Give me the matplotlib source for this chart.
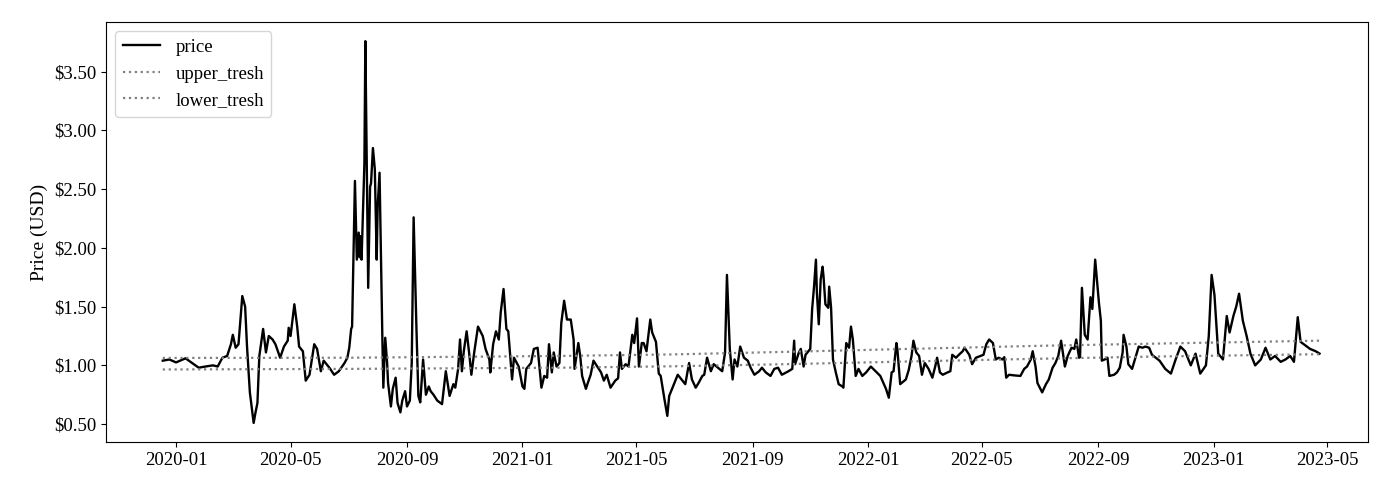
import numpy as np
import pandas as pd
import matplotlib
matplotlib.use("Agg")
import matplotlib.pyplot as plt
import matplotlib.dates as mdates
from matplotlib.ticker import StrMethodFormatter

plt.rcParams['font.family'] = ['Liberation Serif', 'DejaVu Serif']

# all day numbers below are counted from this date
base = pd.Timestamp("2020-01-05")

price_days = [
    -18, -11, -4, 6, 13, 20, 27, 35, 40, 45, 50, 54, 56, 59, 62, 64, 66, 69, 71, 74,
    77, 78, 80, 82, 84, 88, 91, 94, 98, 101, 106, 110, 114, 115, 117, 121, 124, 126, 130, 133,
    137, 142, 145, 149, 152, 158, 163, 168, 174, 177, 179, 181, 182, 185, 187, 189, 190, 191, 192, 195,
    196, 199, 201, 202, 204, 206, 208, 209, 211, 212, 214, 215, 217, 219, 220, 223, 225, 228, 230, 233,
    235, 238, 240, 243, 245, 247, 250, 252, 254, 257, 260, 263, 265, 268, 272, 277, 281, 285, 289, 291,
    294, 296, 298, 300, 303, 306, 308, 311, 315, 320, 323, 327, 328, 331, 334, 337, 339, 342, 345, 347,
    351, 353, 358, 362, 364, 366, 371, 374, 378, 382, 385, 388, 390, 393, 395, 398, 401, 403, 406, 409,
    413, 416, 417, 421, 423, 425, 429, 431, 434, 437, 441, 445, 448, 451, 455, 460, 463, 465, 467, 471,
    474, 478, 480, 483, 485, 488, 490, 493, 497, 499, 503, 506, 508, 512, 515, 517, 521, 526, 531, 534,
    538, 541, 545, 548, 552, 554, 557, 561, 564, 570, 573, 576, 578, 581, 584, 586, 589, 592, 596, 600,
    603, 607, 612, 615, 619, 624, 628, 632, 636, 643, 647, 649, 650, 654, 656, 659, 661, 666, 668, 670,
    672, 673, 675, 677, 679, 680, 682, 685, 686, 688, 690, 693, 696, 700, 701, 704, 707, 709, 711, 714,
    717, 721, 725, 730, 735, 740, 746, 749, 752, 754, 757, 758, 761, 767, 770, 773, 775, 778, 781, 784,
    787, 791, 795, 798, 800, 803, 806, 811, 814, 816, 820, 823, 827, 829, 834, 837, 841, 846, 849, 852,
    855, 859, 862, 865, 869, 871, 873, 876, 881, 888, 892, 895, 899, 901, 904, 906, 911, 915, 918, 922,
    925, 928, 931, 935, 938, 942, 945, 947, 950, 951, 953, 956, 959, 962, 964, 967, 971, 973, 974, 977,
    980, 982, 987, 990, 993, 996, 997, 1000, 1002, 1006, 1010, 1013, 1017, 1020, 1024, 1027, 1031, 1035, 1041, 1047,
    1052, 1057, 1062, 1068, 1073, 1078, 1084, 1087, 1090, 1093, 1097, 1102, 1106, 1109, 1113, 1116, 1119, 1123, 1127, 1131,
    1136, 1142, 1147, 1152, 1157, 1163, 1168, 1173, 1177, 1181, 1184, 1189, 1194, 1200, 1204,
]
price = [
    1.04, 1.05, 1.025, 1.06, 1.02, 0.98, 0.99, 1.00, 0.99, 1.065, 1.08, 1.18, 1.26, 1.15, 1.18, 1.38, 1.59, 1.50, 1.16, 0.77,
    0.57, 0.51, 0.60, 0.68, 1.08, 1.31, 1.11, 1.25, 1.22, 1.18, 1.065, 1.16, 1.21, 1.32, 1.25, 1.52, 1.33, 1.16, 1.12, 0.87,
    0.92, 1.18, 1.14, 0.95, 1.04, 0.98, 0.92, 0.95, 1.02, 1.065, 1.15, 1.31, 1.33, 2.57, 1.90, 2.13, 1.92, 2.10, 1.90, 2.72,
    3.76, 1.66, 2.52, 2.55, 2.85, 2.67, 1.90, 2.35, 2.64, 2.16, 1.22, 0.81, 1.235, 1.02, 0.85, 0.65, 0.80, 0.895, 0.68, 0.60,
    0.70, 0.78, 0.65, 0.70, 1.02, 2.26, 1.31, 0.74, 0.685, 1.05, 0.75, 0.82, 0.78, 0.75, 0.70, 0.67, 0.95, 0.74, 0.84, 0.81,
    0.97, 1.22, 0.95, 1.12, 1.29, 1.08, 0.92, 1.11, 1.33, 1.25, 1.14, 1.05, 0.94, 1.18, 1.29, 1.22, 1.45, 1.65, 1.31, 1.29,
    0.88, 1.065, 0.99, 0.82, 0.80, 0.97, 1.02, 1.14, 1.15, 0.81, 0.91, 0.895, 1.18, 0.94, 1.11, 0.99, 1.02, 1.36, 1.55, 1.39,
    1.39, 1.22, 0.97, 1.19, 1.08, 0.91, 0.80, 0.85, 0.92, 1.04, 0.99, 0.94, 0.87, 0.92, 0.81, 0.87, 0.89, 1.11, 0.97, 1.01,
    0.99, 1.26, 1.19, 1.40, 0.99, 1.19, 1.19, 1.12, 1.39, 1.28, 1.20, 0.93, 0.91, 0.71, 0.57, 0.74, 0.82, 0.92, 0.87, 0.84,
    1.02, 0.88, 0.81, 0.85, 0.91, 0.92, 1.065, 0.95, 1.01, 0.97, 0.95, 1.11, 1.77, 1.14, 0.88, 1.05, 0.99, 1.16, 1.065, 1.04,
    0.98, 0.92, 0.95, 0.98, 0.94, 0.91, 0.97, 0.98, 0.92, 0.95, 0.97, 1.21, 1.01, 1.11, 1.14, 0.99, 1.09, 1.14, 1.48, 1.67,
    1.90, 1.62, 1.35, 1.73, 1.84, 1.76, 1.52, 1.49, 1.67, 1.49, 1.05, 0.94, 0.84, 0.82, 0.81, 1.19, 1.15, 1.33, 1.22, 0.91,
    0.97, 0.91, 0.94, 0.99, 0.95, 0.91, 0.80, 0.725, 0.94, 0.95, 1.19, 1.14, 0.84, 0.88, 0.96, 1.08, 1.21, 1.11, 1.08, 0.92,
    1.02, 0.97, 0.895, 0.99, 1.065, 0.94, 0.92, 0.94, 0.95, 1.09, 1.065, 1.09, 1.12, 1.15, 1.09, 1.01, 1.065, 1.08, 1.09, 1.18,
    1.22, 1.19, 1.05, 1.065, 1.05, 1.07, 0.895, 0.92, 0.915, 0.91, 0.97, 0.99, 1.05, 1.12, 0.99, 0.85, 0.77, 0.84, 0.88, 0.98,
    1.02, 1.08, 1.21, 0.99, 1.08, 1.15, 1.14, 1.22, 1.065, 1.07, 1.66, 1.26, 1.22, 1.58, 1.48, 1.90, 1.53, 1.38, 1.04, 1.05,
    1.065, 0.91, 0.92, 0.94, 0.98, 1.11, 1.26, 1.16, 1.01, 0.97, 1.08, 1.16, 1.15, 1.16, 1.15, 1.09, 1.065, 1.04, 0.97, 0.93,
    1.05, 1.16, 1.12, 1.00, 1.10, 0.93, 1.00, 1.25, 1.77, 1.60, 1.10, 1.05, 1.42, 1.28, 1.42, 1.50, 1.61, 1.38, 1.25, 1.10,
    1.00, 1.05, 1.15, 1.05, 1.08, 1.03, 1.05, 1.08, 1.03, 1.41, 1.20, 1.17, 1.14, 1.12, 1.10,
]

thresh_days = [-18, 180, 400, 520, 640, 770, 900, 1030, 1204]
upper_tresh = [1.063, 1.065, 1.08, 1.093, 1.115, 1.14, 1.165, 1.185, 1.21]
lower_tresh = [0.965, 0.97, 0.98, 0.992, 1.01, 1.033, 1.055, 1.075, 1.095]

price_dates = base + pd.to_timedelta(price_days, unit="D")
thresh_dates = base + pd.to_timedelta(thresh_days, unit="D")

fig = plt.figure(figsize=(14, 4.92), dpi=100)
ax = fig.add_axes([0.0757, 0.1016, 0.9013, 0.8536])

ax.plot(price_dates, price, color="black", lw=1.7, label="price")
ax.plot(thresh_dates, upper_tresh, color="gray", ls=":", lw=1.6, label="upper_tresh")
ax.plot(thresh_dates, lower_tresh, color="gray", ls=":", lw=1.6, label="lower_tresh")

ax.set_xlim(pd.Timestamp("2019-10-19"), pd.Timestamp("2023-06-13"))
ax.xaxis.set_major_locator(mdates.MonthLocator(bymonth=[1, 5, 9]))
ax.xaxis.set_major_formatter(mdates.DateFormatter("%Y-%m"))
ax.yaxis.set_major_formatter(StrMethodFormatter("${x:.2f}"))
ax.set_yticks([0.5, 1.0, 1.5, 2.0, 2.5, 3.0, 3.5])

ax.tick_params(labelsize=13.5)
ax.set_ylabel("Price (USD)", fontsize=14)
ax.legend(loc="upper left", fontsize=13.5)

plt.savefig("out.png", dpi=100)
